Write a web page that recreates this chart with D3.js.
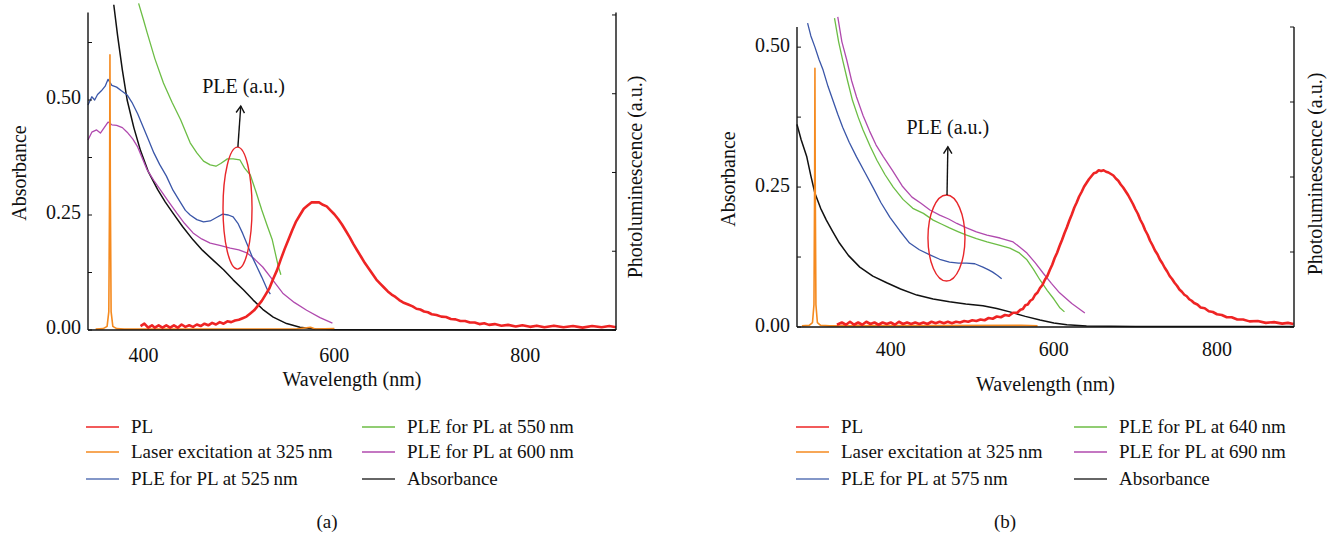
<!DOCTYPE html>
<html><head><meta charset="utf-8">
<script src="https://cdn.jsdelivr.net/npm/d3@7"></script>
<style>body{margin:0;background:#fff}</style>
</head><body>
<script>
// ---------- DATA ----------
const seriesNames = ["PL","Laser excitation at 325\u2009nm","PLE for PL at 525\u2009nm","PLE for PL at 550\u2009nm","PLE for PL at 600\u2009nm","Absorbance"];
const seriesNamesB = ["PL","Laser excitation at 325\u2009nm","PLE for PL at 575\u2009nm","PLE for PL at 640\u2009nm","PLE for PL at 690\u2009nm","Absorbance"];
const xTicks = [400, 600, 800];
const yTicks = [0, 0.25, 0.5];
const yTickLabels = ["0.00", "0.25", "0.50"];
const yMinorStep = 0.125;
const plTicks = [0, 1, 2, 3, 4];

// Panel (a)
const absA = [[369,0.707],[373,0.64],[378,0.565],[383,0.50],[390,0.44],[397,0.39],[405,0.345],[415,0.305],[423,0.278],[431,0.254],[441,0.225],[452,0.196],[462,0.173],[473,0.152],[484,0.131],[494,0.109],[505,0.087],[515,0.065],[525,0.045],[536,0.028],[550,0.014],[564,0.006],[580,0.002],[600,0.001],[895,0.0]];
const ple525A = [[342,0.489],[346,0.507],[349,0.50],[352,0.512],[356,0.52],[360,0.53],[363,0.545],[367,0.532],[372,0.528],[377,0.52],[383,0.511],[388,0.495],[394,0.47],[400,0.44],[405,0.415],[411,0.385],[417,0.36],[424,0.335],[431,0.304],[438,0.28],[444,0.26],[449,0.25],[456,0.24],[463,0.235],[470,0.237],[477,0.245],[483,0.252],[489,0.25],[494,0.246],[499,0.232],[504,0.21],[509,0.185],[514,0.159],[519,0.137],[524,0.115],[530,0.087],[533,0.078]];
const ple550A = [[395,0.71],[400,0.675],[404,0.646],[412,0.59],[421,0.537],[430,0.495],[439,0.457],[449,0.407],[456,0.385],[463,0.367],[470,0.359],[476,0.356],[481,0.362],[488,0.372],[494,0.372],[501,0.37],[506,0.352],[512,0.337],[518,0.3],[524,0.261],[530,0.225],[535,0.196],[541,0.141],[544,0.12]];
const ple600A = [[342,0.413],[346,0.43],[351,0.435],[355,0.428],[359,0.44],[363,0.452],[367,0.446],[372,0.445],[378,0.44],[383,0.43],[389,0.415],[394,0.398],[399,0.373],[404,0.348],[411,0.325],[418,0.304],[426,0.28],[435,0.254],[443,0.232],[452,0.211],[461,0.198],[470,0.189],[480,0.184],[491,0.178],[500,0.174],[509,0.167],[517,0.153],[525,0.137],[535,0.11],[546,0.08],[558,0.06],[571,0.043],[585,0.027],[598,0.015]];
const laserA = [[350,0.002],[358,0.003],[362,0.008],[363.8,0.04],[364.6,0.3],[365,0.598],[365.4,0.3],[366.2,0.04],[368,0.008],[372,0.003],[380,0.002],[560,0.002],[575,0.006],[580,0.002],[600,0.003]];
// PL in arbitrary units (right axis)
const plA = [[397,0.05],[401,0.08],[405,0.03],[409,0.06],[412,0.03],[416,0.06],[420,0.03],[424,0.06],[428,0.03],[432,0.06],[436,0.03],[440,0.07],[444,0.04],[448,0.06],[452,0.04],[456,0.07],[460,0.05],[464,0.08],[468,0.06],[472,0.09],[476,0.07],[480,0.1],[484,0.08],[488,0.11],[492,0.1],[496,0.12],[500,0.13],[504,0.15],[508,0.17],[512,0.21],[516,0.25],[520,0.31],[524,0.37],[528,0.45],[532,0.53],[536,0.65],[540,0.76],[544,0.90],[548,1.03],[552,1.15],[556,1.27],[560,1.38],[564,1.46],[568,1.54],[572,1.58],[576,1.62],[580,1.62],[584,1.62],[588,1.59],[592,1.57],[596,1.52],[600,1.47],[604,1.41],[608,1.34],[612,1.26],[616,1.18],[620,1.09],[624,1.01],[628,0.93],[632,0.85],[636,0.78],[640,0.71],[644,0.64],[648,0.59],[652,0.54],[656,0.49],[660,0.45],[664,0.42],[668,0.38],[672,0.35],[678,0.32],[682,0.30],[686,0.27],[690,0.26],[694,0.235],[698,0.225],[702,0.20],[707,0.19],[712,0.17],[717,0.165],[722,0.14],[727,0.135],[732,0.115],[737,0.115],[742,0.095],[747,0.095],[752,0.075],[757,0.085],[762,0.065],[768,0.075],[775,0.055],[782,0.065],[790,0.045],[797,0.06],[805,0.04],[812,0.055],[820,0.035],[830,0.055],[840,0.035],[850,0.05],[860,0.03],[870,0.05],[880,0.035],[888,0.05],[895,0.035]];

// Panel (b)
const absB = [[285,0.362],[290,0.335],[297,0.304],[302,0.27],[307,0.239],[314,0.212],[321,0.191],[329,0.17],[337,0.15],[348,0.128],[362,0.107],[378,0.091],[395,0.079],[412,0.068],[432,0.057],[452,0.05],[472,0.045],[492,0.041],[513,0.038],[530,0.033],[546,0.027],[565,0.019],[583,0.0125],[600,0.007],[616,0.004],[640,0.002],[700,0.001],[894,0.001]];
const ple575B = [[298,0.543],[302,0.52],[307,0.5],[312,0.478],[317,0.459],[323,0.43],[329,0.405],[335,0.38],[341,0.357],[349,0.33],[358,0.304],[368,0.277],[378,0.25],[388,0.222],[399,0.196],[411,0.172],[423,0.15],[435,0.138],[448,0.129],[460,0.121],[472,0.116],[483,0.114],[493,0.114],[503,0.113],[513,0.107],[520,0.102],[525,0.098],[531,0.092],[536,0.086]];
const ple640B = [[331,0.552],[336,0.51],[341,0.477],[347,0.44],[353,0.405],[360,0.375],[366,0.352],[375,0.322],[383,0.298],[393,0.272],[403,0.25],[415,0.228],[427,0.212],[440,0.203],[452,0.191],[462,0.184],[472,0.177],[483,0.17],[493,0.164],[505,0.158],[518,0.152],[534,0.146],[546,0.141],[557,0.133],[567,0.12],[575,0.103],[583,0.084],[592,0.065],[600,0.05],[607,0.035],[613,0.027]];
const ple690B = [[335,0.554],[340,0.51],[346,0.477],[352,0.44],[358,0.411],[366,0.378],[374,0.35],[382,0.325],[391,0.304],[402,0.28],[414,0.252],[426,0.232],[437,0.221],[448,0.209],[460,0.2],[471,0.193],[481,0.185],[493,0.177],[505,0.17],[518,0.164],[534,0.159],[550,0.152],[558,0.143],[567,0.132],[577,0.115],[587,0.096],[597,0.078],[607,0.061],[622,0.042],[638,0.025]];
const laserB = [[291,0.002],[300,0.003],[304,0.008],[305.8,0.04],[306.6,0.25],[307,0.462],[307.4,0.25],[308.2,0.04],[310,0.008],[314,0.003],[325,0.002],[560,0.003],[580,0.002]];
const plB = [[334,0.03],[340,0.06],[345,0.03],[350,0.07],[355,0.03],[360,0.06],[365,0.03],[370,0.07],[375,0.04],[380,0.06],[385,0.03],[390,0.06],[395,0.04],[400,0.06],[405,0.03],[410,0.07],[415,0.04],[420,0.06],[425,0.04],[430,0.06],[435,0.04],[440,0.06],[445,0.04],[450,0.07],[455,0.05],[460,0.07],[465,0.05],[470,0.07],[475,0.05],[480,0.07],[485,0.06],[490,0.08],[495,0.07],[500,0.09],[505,0.08],[510,0.1],[515,0.09],[520,0.12],[525,0.11],[530,0.14],[535,0.13],[540,0.16],[545,0.15],[550,0.19],[555,0.19],[559,0.23],[562,0.24],[565,0.29],[568,0.3],[571,0.35],[574,0.37],[577,0.43],[580,0.46],[583,0.52],[586,0.56],[589,0.63],[592,0.68],[595,0.76],[598,0.83],[601,0.92],[604,0.99],[607,1.08],[610,1.16],[613,1.25],[616,1.33],[619,1.42],[622,1.50],[625,1.59],[628,1.66],[631,1.74],[634,1.80],[637,1.87],[640,1.92],[643,1.97],[646,2.01],[649,2.05],[652,2.06],[655,2.09],[658,2.08],[661,2.09],[664,2.07],[667,2.06],[670,2.04],[673,2.02],[676,1.98],[679,1.95],[682,1.90],[685,1.86],[688,1.81],[691,1.76],[694,1.70],[697,1.64],[700,1.57],[703,1.51],[706,1.43],[709,1.37],[712,1.29],[715,1.23],[718,1.15],[721,1.09],[724,1.02],[727,0.97],[730,0.90],[733,0.85],[736,0.79],[739,0.74],[742,0.68],[745,0.64],[748,0.59],[751,0.55],[754,0.50],[757,0.47],[760,0.43],[763,0.41],[766,0.37],[769,0.35],[772,0.32],[776,0.30],[780,0.26],[785,0.25],[790,0.21],[795,0.20],[800,0.17],[806,0.16],[812,0.13],[818,0.13],[825,0.10],[832,0.10],[840,0.075],[850,0.08],[860,0.055],[870,0.065],[880,0.045],[887,0.055],[894,0.04]];

// annotation anchors (data coordinates)
const annotA = {cx:498.6, cy:0.265, rx:15.2, ry:0.1326, arrowFrom:[499,0.398], arrowTo:[502,0.487], text:[505,0.515]};
const annotB = {cx:468.3, cy:0.159, rx:22.7, ry:0.0768, arrowFrom:[469,0.236], arrowTo:[470,0.322], text:[470,0.345]};

const colors = {pl:"#ee2424", laser:"#f58a1f", blue:"#3a56a8", green:"#6cbd45", purple:"#b04aae", black:"#111111"};
const legendColors = [colors.pl, colors.laser, "#5a74b6", colors.green, colors.purple, "#333333"];
const FONT = "'Liberation Serif', 'DejaVu Serif', 'Noto Serif', serif";

// ---------- DRAW ----------
const svg = d3.select("body").append("svg").attr("width",1336).attr("height",533)
  .attr("font-family", FONT).style("font-family", FONT);

function panel(cfg){
  const g = svg.append("g");
  const x = d3.scaleLinear().domain(cfg.xDomain).range(cfg.xRange);
  const y = d3.scaleLinear().domain(cfg.yDomain).range(cfg.yRange);
  const yr = d3.scaleLinear().domain(cfg.plDomain).range(cfg.yRange);
  const [x0,x1] = cfg.xRange, [yb,yt] = cfg.yRange;

  const line = d3.line().x(d=>x(d[0])).y(d=>y(d[1]));
  const lineR = d3.line().x(d=>x(d[0])).y(d=>yr(d[1]));

  const order = [
    [cfg.abs, colors.black, 1.5, line],
    [cfg.p3, colors.purple, 1.3, line],
    [cfg.p1, colors.blue, 1.3, line],
    [cfg.p2, colors.green, 1.3, line],
    [cfg.laser, colors.laser, 1.6, line],
    [cfg.pl, colors.pl, 2.6, lineR]
  ];
  order.forEach(([d,c,w,l])=>{
    g.append("path").attr("d",l(d)).attr("fill","none").attr("stroke",c).attr("stroke-width",w).attr("stroke-linejoin","round");
  });

  const ax = g.append("g").attr("stroke","#111").attr("stroke-width",1.4);
  ax.append("line").attr("x1",x0).attr("x2",x0).attr("y1",yt).attr("y2",yb);
  ax.append("line").attr("x1",x0).attr("x2",x1).attr("y1",yb).attr("y2",yb);
  ax.append("line").attr("x1",x1).attr("x2",x1).attr("y1",yt).attr("y2",yb);
  d3.range(0, cfg.yDomain[1]+1e-9, yMinorStep).forEach(v=>{
    ax.append("line").attr("x1",x0).attr("x2",x0+4).attr("y1",y(v)).attr("y2",y(v)).attr("stroke-width",1);
  });
  plTicks.forEach(v=>{
    ax.append("line").attr("x1",x1).attr("x2",x1-4).attr("y1",yr(v)).attr("y2",yr(v)).attr("stroke-width",1);
  });

  const T = (sel)=>sel.attr("fill","#111").attr("font-family",FONT);
  yTicks.forEach((v,i)=>{
    T(g.append("text")).attr("x",x0-7).attr("y",y(v)-cfg.labelLift).attr("dy","0.34em").attr("text-anchor","end")
     .attr("font-size",20).text(yTickLabels[i]);
  });
  xTicks.forEach(v=>{
    T(g.append("text")).attr("x",x(v)).attr("y",cfg.xLabelY).attr("text-anchor","middle").attr("font-size",20).text(v);
  });
  T(g.append("text")).attr("x",(x0+x1)/2).attr("y",cfg.xTitleY).attr("text-anchor","middle").attr("font-size",20).text("Wavelength (nm)");
  T(g.append("text")).attr("transform",`translate(${cfg.absTitleX},${cfg.absTitleY}) rotate(-90)`).attr("text-anchor","middle").attr("font-size",20).text("Absorbance");
  T(g.append("text")).attr("transform",`translate(${cfg.plTitleX},${cfg.plTitleY}) rotate(-90)`).attr("text-anchor","middle").attr("font-size",20).text("Photoluminescence (a.u.)");

  const an = cfg.annot;
  g.append("ellipse").attr("cx",x(an.cx)).attr("cy",y(an.cy))
    .attr("rx",x(an.cx+an.rx)-x(an.cx)).attr("ry",y(0)-y(an.ry))
    .attr("fill","none").attr("stroke","#e8262a").attr("stroke-width",1.4);
  const fx=x(an.arrowFrom[0]), fy=y(an.arrowFrom[1]), tx=x(an.arrowTo[0]), ty=y(an.arrowTo[1]);
  g.append("line").attr("x1",fx).attr("y1",fy).attr("x2",tx).attr("y2",ty).attr("stroke","#111").attr("stroke-width",1.4);
  const ang = Math.atan2(ty-fy, tx-fx);
  const hl=8, ha=0.55;
  g.append("path").attr("d",`M${tx-hl*Math.cos(ang-ha)},${ty-hl*Math.sin(ang-ha)}L${tx},${ty}L${tx-hl*Math.cos(ang+ha)},${ty-hl*Math.sin(ang+ha)}`)
   .attr("fill","none").attr("stroke","#111").attr("stroke-width",1.4);
  T(g.append("text")).attr("x",x(an.text[0])).attr("y",y(an.text[1])).attr("text-anchor","middle").attr("font-size",20).text("PLE (a.u.)");

  const lg = g.append("g");
  cfg.names.forEach((n,i)=>{
    const col = Math.floor(i/3), row = i%3;
    const lx = cfg.legX[col], ly = cfg.legY[row];
    lg.append("line").attr("x1",lx).attr("x2",lx+33).attr("y1",ly).attr("y2",ly).attr("stroke",legendColors[i]).attr("stroke-width",1.6);
    T(lg.append("text")).attr("x",lx+45).attr("y",ly).attr("dy","0.33em").attr("font-size",19).text(n);
  });
  T(g.append("text")).attr("x",cfg.capX).attr("y",528).attr("text-anchor","middle").attr("font-size",19).text(cfg.cap);
}

panel({xDomain:[342,895], xRange:[88,616], yDomain:[0,0.69], yRange:[330,12.6], plDomain:[0,4.03],
  abs:absA, p1:ple525A, p2:ple550A, p3:ple600A, laser:laserA, pl:plA, names:seriesNames, annot:annotA,
  labelLift:3, xLabelY:362, xTitleY:386, absTitleX:26, absTitleY:173, plTitleX:642, plTitleY:177,
  legX:[86,362], legY:[427,452,479], capX:327, cap:"(a)"});
panel({xDomain:[285,894.5], xRange:[797,1294], yDomain:[0,0.536], yRange:[327,27], plDomain:[0,4],
  abs:absB, p1:ple575B, p2:ple640B, p3:ple690B, laser:laserB, pl:plB, names:seriesNamesB, annot:annotB,
  labelLift:2, xLabelY:356, xTitleY:391, absTitleX:735, absTitleY:179, plTitleX:1322, plTitleY:174,
  legX:[796,1074], legY:[427,452,479], capX:1005, cap:"(b)"});
</script>
</body></html>
